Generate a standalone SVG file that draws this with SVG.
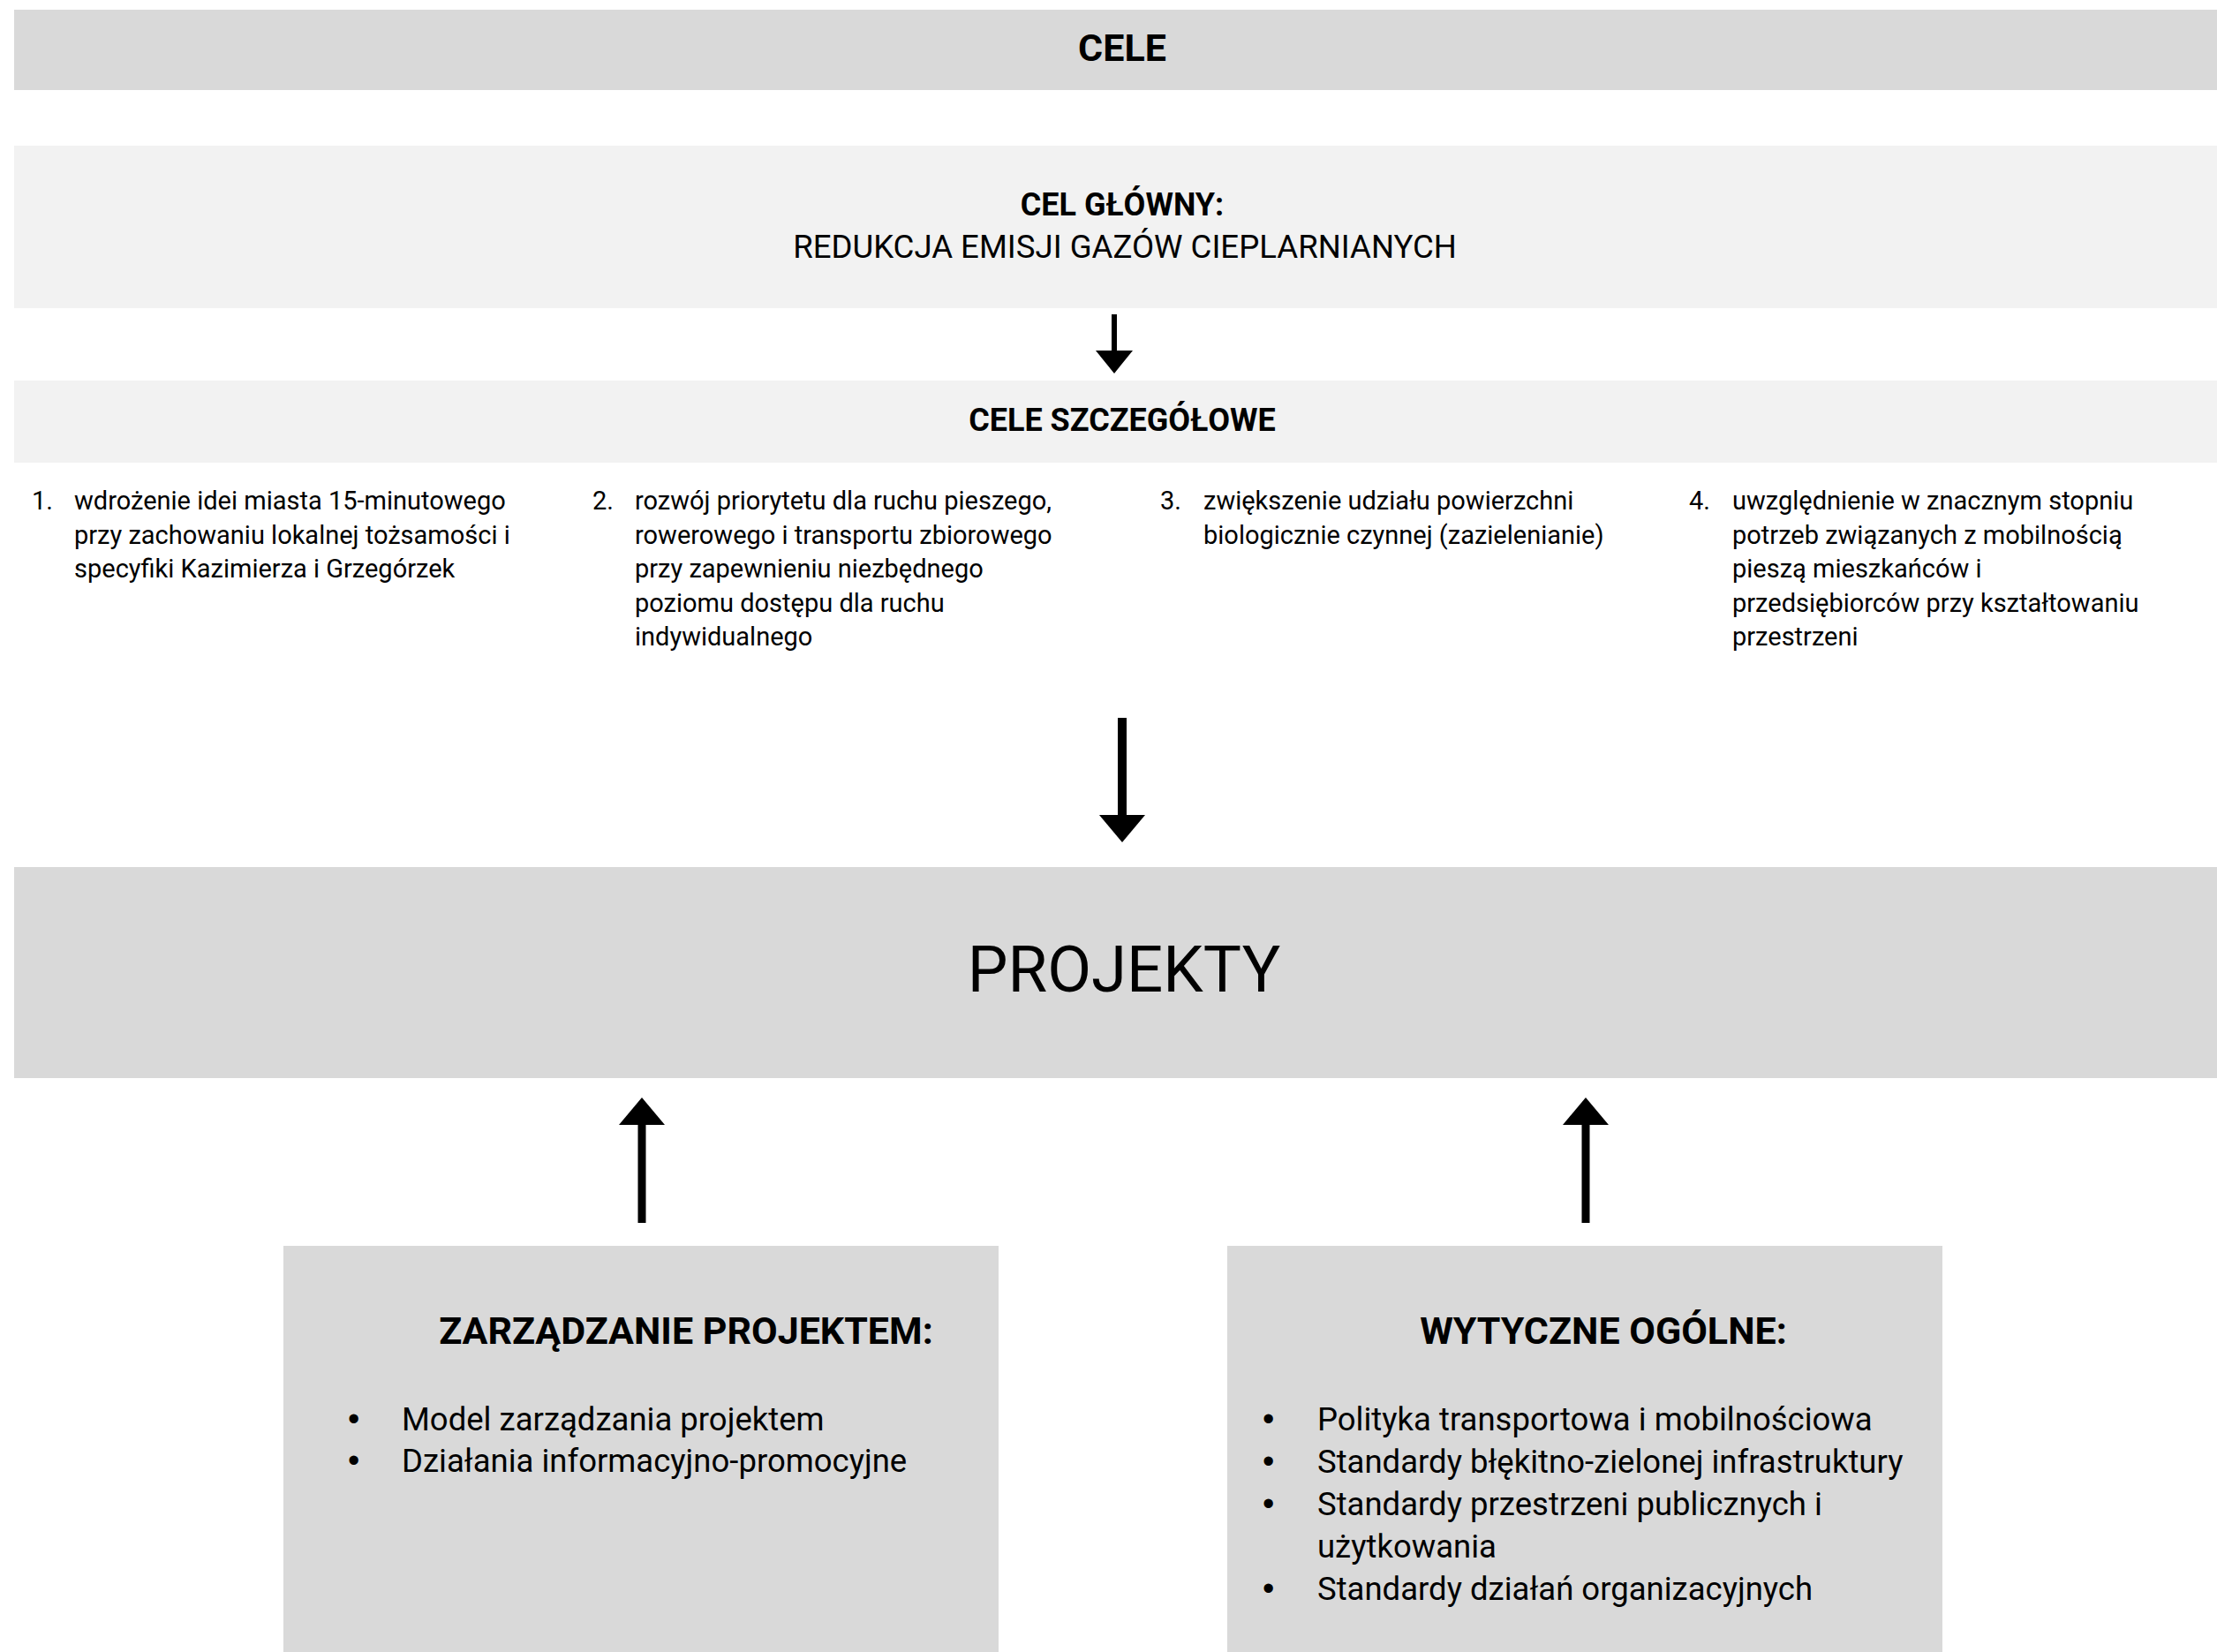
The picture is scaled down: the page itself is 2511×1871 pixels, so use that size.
<svg xmlns="http://www.w3.org/2000/svg" width="2511" height="1871" viewBox="0 0 2511 1871">
<style>
.dark{fill:#d9d9d9}
.light{fill:#f2f2f2}
.t{font-family:Roboto,"Liberation Sans",sans-serif;fill:#000}
.b{font-weight:bold}
.c{text-anchor:middle}
.li{font-size:29px}
.bl{font-size:36.5px}
.bu{font-family:"Liberation Sans",Arial,sans-serif;font-size:38px;fill:#000}
.ah{fill:#000}
.sh{stroke:#000;fill:none}
</style>
<rect width="2511" height="1871" fill="#fff"/>
<g id="cele">
<rect class="dark" x="16" y="11" width="2495" height="91"/>
<text class="t b c" x="1271" y="69" font-size="43">CELE</text>
</g>
<g id="cel-glowny">
<rect class="light" x="16" y="165" width="2495" height="184"/>
<text class="t b c" x="1271" y="244" font-size="36">CEL GŁÓWNY:</text>
<text class="t c" x="1274" y="292" font-size="36.6">REDUKCJA EMISJI GAZÓW CIEPLARNIANYCH</text>
</g>
<g id="cele-szczegolowe">
<rect class="light" x="16" y="431" width="2495" height="93"/>
<text class="t b c" x="1271" y="488" font-size="36">CELE SZCZEGÓŁOWE</text>
</g>
<g id="cel-1">
<text class="t li" x="36" y="577">1.</text>
<text class="t li" x="84" y="577">wdrożenie idei miasta 15-minutowego</text>
<text class="t li" x="84" y="616">przy zachowaniu lokalnej tożsamości i</text>
<text class="t li" x="84" y="654">specyfiki Kazimierza i Grzegórzek</text>
</g>
<g id="cel-2">
<text class="t li" x="671" y="577">2.</text>
<text class="t li" x="719" y="577">rozwój priorytetu dla ruchu pieszego,</text>
<text class="t li" x="719" y="616">rowerowego i transportu zbiorowego</text>
<text class="t li" x="719" y="654">przy zapewnieniu niezbędnego</text>
<text class="t li" x="719" y="693">poziomu dostępu dla ruchu</text>
<text class="t li" x="719" y="731">indywidualnego</text>
</g>
<g id="cel-3">
<text class="t li" x="1314" y="577">3.</text>
<text class="t li" x="1363" y="577">zwiększenie udziału powierzchni</text>
<text class="t li" x="1363" y="616">biologicznie czynnej (zazielenianie)</text>
</g>
<g id="cel-4">
<text class="t li" x="1913" y="577">4.</text>
<text class="t li" x="1962" y="577">uwzględnienie w znacznym stopniu</text>
<text class="t li" x="1962" y="616">potrzeb związanych z mobilnością</text>
<text class="t li" x="1962" y="654">pieszą mieszkańców i</text>
<text class="t li" x="1962" y="693">przedsiębiorców przy kształtowaniu</text>
<text class="t li" x="1962" y="731">przestrzeni</text>
</g>
<g id="projekty">
<rect class="dark" x="16" y="982" width="2495" height="239"/>
<text class="t c" x="1273" y="1123" font-size="72.5">PROJEKTY</text>
</g>
<g id="zarzadzanie">
<rect class="dark" x="321" y="1411" width="810" height="460"/>
<text class="t b c" x="777" y="1522" font-size="43">ZARZĄDZANIE PROJEKTEM:</text>
<text class="bu" x="394" y="1620">•</text>
<text class="t bl" x="455" y="1620">Model zarządzania projektem</text>
<text class="bu" x="394" y="1667">•</text>
<text class="t bl" x="455" y="1667">Działania informacyjno-promocyjne</text>
</g>
<g id="wytyczne">
<rect class="dark" x="1390" y="1411" width="810" height="460"/>
<text class="t b c" x="1816" y="1522" font-size="43">WYTYCZNE OGÓLNE:</text>
<text class="bu" x="1430" y="1620">•</text>
<text class="t bl" x="1492" y="1620">Polityka transportowa i mobilnościowa</text>
<text class="bu" x="1430" y="1668">•</text>
<text class="t bl" x="1492" y="1668">Standardy błękitno-zielonej infrastruktury</text>
<text class="bu" x="1430" y="1716">•</text>
<text class="t bl" x="1492" y="1716">Standardy przestrzeni publicznych i</text>
<text class="t bl" x="1492" y="1764">użytkowania</text>
<text class="bu" x="1430" y="1812">•</text>
<text class="t bl" x="1492" y="1812">Standardy działań organizacyjnych</text>
</g>
<g id="connectors">
<line class="sh" x1="1262" y1="356" x2="1262" y2="400" stroke-width="6"/>
<polygon class="ah" points="1241,397 1283,397 1262,423"/>
<line class="sh" x1="1271" y1="813" x2="1271" y2="926" stroke-width="10"/>
<polygon class="ah" points="1245,923 1297,923 1271,954"/>
<line class="sh" x1="727" y1="1385" x2="727" y2="1270" stroke-width="9"/>
<polygon class="ah" points="701,1274 753,1274 727,1243"/>
<line class="sh" x1="1796" y1="1385" x2="1796" y2="1270" stroke-width="9"/>
<polygon class="ah" points="1770,1274 1822,1274 1796,1243"/>
</g>
</svg>
